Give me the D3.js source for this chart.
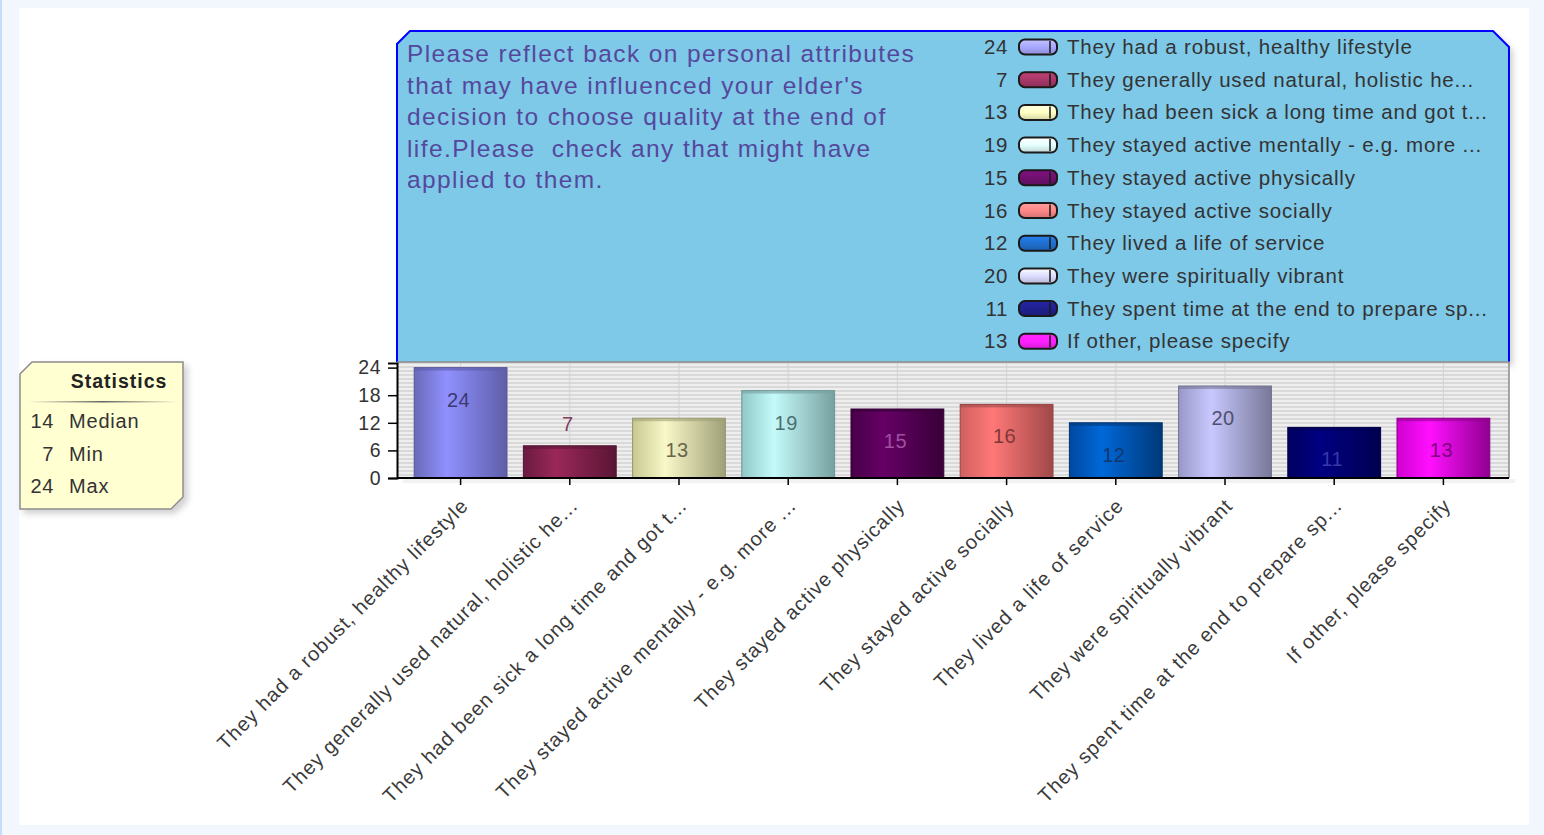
<!DOCTYPE html>
<html>
<head>
<meta charset="utf-8">
<script src="https://cdn.jsdelivr.net/npm/d3@7"></script>
<style>
  html, body { margin: 0; padding: 0; background: #f2f7fe; }
  svg { display: block; }
  text { font-family: "Liberation Sans", Arial, sans-serif; }
</style>
</head>
<body>
<svg id="chart" width="1544" height="835"></svg>
<script>
// ---- data ----
const categories = [
  "They had a robust, healthy lifestyle",
  "They generally used natural, holistic he...",
  "They had been sick a long time and got t...",
  "They stayed active mentally - e.g. more ...",
  "They stayed active physically",
  "They stayed active socially",
  "They lived a life of service",
  "They were spiritually vibrant",
  "They spent time at the end to prepare sp...",
  "If other, please specify"
];
const values = [24, 7, 13, 19, 15, 16, 12, 20, 11, 13];
const yTicks = [0, 6, 12, 18, 24];
const titleLines = [
  "Please reflect back on personal attributes",
  "that may have influenced your elder's",
  "decision to choose quality at the end of",
  "life.Please  check any that might have",
  "applied to them."
];
const statLabels = ["Median", "Min", "Max"];

// ---- styles ----
const barEdgeL  = ["#6a6ab8","#6a1a40","#c8c890","#90c8c8","#480048","#d06060","#0048a0","#9898c8","#000060","#d000d0"];
const barMid    = ["#9090ff","#9a2858","#f8f8c8","#c4fafa","#660066","#ff7878","#0068d8","#c8c8ff","#000082","#ff10ff"];
const barEdgeR  = ["#5e5ea8","#5a1535","#a0a078","#78a0a0","#380038","#a04848","#003878","#787898","#000050","#900090"];
const labelCol  = ["#3a3a70","#804060","#66664c","#4a7070","#a050a0","#803838","#103870","#505070","#3838a8","#800080"];
const swatchCol = ["#a8a8ff","#a83868","#ffffc4","#e4ffff","#701070","#ff8888","#2070d0","#dcdcff","#202090","#ff20ff"];

const svg = d3.select("#chart");
const defs = svg.append("defs");

// page
svg.append("rect").attr("x", 0).attr("y", 0).attr("width", 2).attr("height", 835).attr("fill", "#c4dcf8");
svg.append("rect").attr("x", 19).attr("y", 8).attr("width", 1510).attr("height", 817).attr("fill", "#ffffff");

// geometry
const plot = { left: 397, right: 1509, top: 362, bottom: 478 };
const x = d3.scaleBand().domain(categories).range([406, 1498]).paddingInner(0.15).paddingOuter(0.075);
const y = d3.scaleLinear().domain([0, 25]).range([plot.bottom, plot.top + 1]);

// gradients
categories.forEach((c, i) => {
  const g = defs.append("linearGradient").attr("id", "bar" + i).attr("x1", "0").attr("x2", "1").attr("y1", "0").attr("y2", "0");
  g.append("stop").attr("offset", "0%").attr("stop-color", barEdgeL[i]);
  g.append("stop").attr("offset", "35%").attr("stop-color", barMid[i]);
  g.append("stop").attr("offset", "100%").attr("stop-color", barEdgeR[i]);
  const s = defs.append("linearGradient").attr("id", "sw" + i).attr("x1", "0").attr("x2", "0").attr("y1", "0").attr("y2", "1");
  s.append("stop").attr("offset", "0%").attr("stop-color", d3.color(swatchCol[i]).brighter(0.4));
  s.append("stop").attr("offset", "50%").attr("stop-color", swatchCol[i]);
  s.append("stop").attr("offset", "100%").attr("stop-color", d3.color(swatchCol[i]).darker(0.5));
});
const pat = defs.append("pattern").attr("id", "stripes").attr("patternUnits", "userSpaceOnUse")
  .attr("width", 8).attr("height", 4);
pat.append("rect").attr("width", 8).attr("height", 4).attr("fill", "#eeeeee");
pat.append("rect").attr("y", 2).attr("width", 8).attr("height", 2).attr("fill", "#d9d9d9");
const sh = defs.append("filter").attr("id", "shadow").attr("x", "-10%").attr("y", "-10%").attr("width", "130%").attr("height", "130%");
sh.append("feDropShadow").attr("dx", 4).attr("dy", 4).attr("stdDeviation", 3).attr("flood-color", "#000").attr("flood-opacity", 0.18);

// legend / title box
const boxPath = `M${plot.left},${plot.top} L${plot.left},44 L410,31 L1493,31 L${plot.right},47 L${plot.right},${plot.top} Z`;
svg.append("path").attr("d", boxPath).attr("fill", "#7ec8e8").attr("filter", "url(#shadow)");
svg.append("path").attr("d", `M${plot.left},${plot.top} L${plot.left},44 L410,31 L1493,31 L${plot.right},47 L${plot.right},${plot.top}`)
  .attr("fill", "none").attr("stroke", "#0000ff").attr("stroke-width", 2);

svg.append("g").selectAll("text").data(titleLines).join("text")
  .attr("x", 407).attr("y", (d, i) => 62 + i * 31.6)
  .attr("font-size", 24.5).attr("letter-spacing", 1.4).attr("fill", "#55489c")
  .style("white-space", "pre").text(d => d);

// legend entries
const leg = svg.append("g").selectAll("g").data(categories).join("g")
  .attr("transform", (d, i) => `translate(0,${47 + i * 32.7})`);
leg.append("text").attr("x", 1008).attr("y", 7).attr("text-anchor", "end")
  .attr("font-size", 20.5).attr("letter-spacing", 0.6).attr("fill", "#333").text((d, i) => values[i]);
leg.append("rect").attr("x", 1019).attr("y", -7.5).attr("width", 38).attr("height", 15).attr("rx", 6)
  .attr("fill", (d, i) => `url(#sw${i})`).attr("stroke", "#1a1a1a").attr("stroke-width", 2);
leg.append("line").attr("x1", 1050).attr("x2", 1050).attr("y1", -6).attr("y2", 6)
  .attr("stroke", "#1a1a1a").attr("stroke-width", 1.5);
leg.append("text").attr("x", 1067).attr("y", 7).attr("font-size", 20.5).attr("letter-spacing", 0.8)
  .attr("fill", "#333").text(d => d);

// plot background
svg.append("rect").attr("x", plot.left).attr("y", plot.top).attr("width", plot.right - plot.left)
  .attr("height", plot.bottom - plot.top).attr("fill", "url(#stripes)");
svg.append("g").selectAll("line").data(categories).join("line")
  .attr("x1", d => x(d) + x.bandwidth() / 2).attr("x2", d => x(d) + x.bandwidth() / 2)
  .attr("y1", plot.top).attr("y2", plot.bottom).attr("stroke", "#d2d2d2").attr("stroke-width", 1);
svg.append("path").attr("d", `M${plot.left},${plot.top} L${plot.right},${plot.top} L${plot.right},${plot.bottom}`)
  .attr("fill", "none").attr("stroke", "#8a8a8a").attr("stroke-width", 1.5);
// shadow under the axis
svg.append("rect").attr("x", plot.left + 6).attr("y", plot.bottom + 1).attr("width", plot.right - plot.left)
  .attr("height", 4).attr("fill", "#000").attr("opacity", 0.05);

// bars
const bars = svg.append("g").selectAll("g").data(categories).join("g");
bars.append("rect")
  .attr("x", d => x(d)).attr("width", x.bandwidth())
  .attr("y", (d, i) => y(values[i])).attr("height", (d, i) => plot.bottom - y(values[i]))
  .attr("fill", (d, i) => `url(#bar${i})`)
  .attr("stroke", (d, i) => d3.color(barEdgeR[i]).darker(0.2)).attr("stroke-width", 1);
bars.append("rect")
  .attr("x", d => x(d)).attr("width", x.bandwidth())
  .attr("y", (d, i) => y(values[i])).attr("height", 3)
  .attr("fill", (d, i) => barEdgeR[i]).attr("opacity", 0.6);
bars.append("text")
  .attr("x", d => x(d) + x.bandwidth() / 2 - 2)
  .attr("y", (d, i) => {
    const top = y(values[i]);
    return (plot.bottom - top) < 40 ? top - 15 : top + 39;
  })
  .attr("text-anchor", "middle").attr("font-size", 20).attr("letter-spacing", 0.5)
  .attr("fill", (d, i) => labelCol[i]).text((d, i) => values[i]);

// axes
const yAxis = svg.append("g").attr("transform", `translate(${plot.left},0)`)
  .call(d3.axisLeft(y).tickValues(yTicks).tickSize(9).tickPadding(7));
yAxis.select(".domain").attr("stroke", "#000").attr("stroke-width", 2);
yAxis.selectAll(".tick line").attr("stroke", "#000").attr("stroke-width", 1.5);
yAxis.selectAll(".tick text").attr("font-size", 19.5).attr("fill", "#333").attr("letter-spacing", 0.5)
  .attr("font-family", "Liberation Sans, Arial, sans-serif");

const xAxis = svg.append("g").attr("transform", `translate(0,${plot.bottom})`)
  .call(d3.axisBottom(x).tickSize(7).tickSizeOuter(0));
xAxis.select(".domain").attr("stroke", "#000").attr("stroke-width", 2)
  .attr("d", `M${plot.left},0H${plot.right}`);
xAxis.selectAll(".tick line").attr("stroke", "#000").attr("stroke-width", 1.5);
xAxis.selectAll(".tick text")
  .attr("font-size", 20).attr("letter-spacing", 1.0).attr("fill", "#3a3a3a")
  .attr("font-family", "Liberation Sans, Arial, sans-serif")
  .attr("text-anchor", "end").attr("dy", 0).attr("y", 0)
  .attr("transform", "translate(9,29) rotate(-45)");

// statistics box
const sorted = values.slice().sort(d3.ascending);
const stats = [d3.median(sorted), d3.min(sorted), d3.max(sorted)];
const sb = { x0: 20, y0: 362, x1: 183, y1: 509, c: 12 };
svg.append("path")
  .attr("d", `M${sb.x0},${sb.y0 + sb.c} L${sb.x0 + sb.c},${sb.y0} L${sb.x1},${sb.y0} L${sb.x1},${sb.y1 - sb.c} L${sb.x1 - sb.c},${sb.y1} L${sb.x0},${sb.y1} Z`)
  .attr("fill", "#ffffd2").attr("stroke", "#8c8c8c").attr("stroke-width", 1.5).attr("filter", "url(#shadow)");
svg.append("text").attr("x", 119).attr("y", 388).attr("text-anchor", "middle")
  .attr("font-size", 19.5).attr("letter-spacing", 1).attr("font-weight", "bold").attr("fill", "#222").text("Statistics");
const sepG = defs.append("linearGradient").attr("id", "sep");
sepG.append("stop").attr("offset", "0%").attr("stop-color", "#ffffd2");
sepG.append("stop").attr("offset", "50%").attr("stop-color", "#666");
sepG.append("stop").attr("offset", "100%").attr("stop-color", "#ffffd2");
svg.append("rect").attr("x", 28).attr("y", 401).attr("width", 150).attr("height", 1.5).attr("fill", "url(#sep)");
const srow = svg.append("g").selectAll("g").data(statLabels).join("g")
  .attr("transform", (d, i) => `translate(0,${428 + i * 32.5})`);
srow.append("text").attr("x", 54).attr("text-anchor", "end").attr("font-size", 20).attr("letter-spacing", 0.6)
  .attr("fill", "#333").text((d, i) => stats[i]);
srow.append("text").attr("x", 69).attr("font-size", 20).attr("letter-spacing", 0.8).attr("fill", "#333").text(d => d);
</script>
</body>
</html>
